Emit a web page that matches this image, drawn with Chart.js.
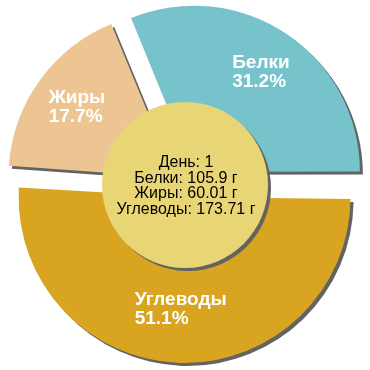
<!DOCTYPE html>
<html>
<head>
<meta charset="utf-8">
<script src="https://cdn.jsdelivr.net/npm/chart.js@4/dist/chart.umd.min.js"></script>
<style>
  html, body { margin: 0; padding: 0; background: #fff; }
  #wrap { width: 370px; height: 370px; }
</style>
</head>
<body>
<div id="wrap"><canvas id="chart1"></canvas></div>
<script>
// order is clockwise starting from 3 o'clock
const labels = ['Углеводы', 'Жиры', 'Белки'];
const percents = [51.1, 17.7, 31.2];
const grams = [173.71, 60.01, 105.9];
const dayNumber = 1;
// center text, top to bottom
const centerNames = ['Белки', 'Жиры', 'Углеводы'];
const centerGrams = [105.9, 60.01, 173.71];

const colors = ['#D9A521', '#EDC593', '#77C3CC'];
const sliceOffsets = [48, 52, 64];

// chart.js grows the radius of wide slices by their offset, undo that
let fixRadius = {
  id: 'fixRadius',
  afterDatasetsUpdate(chart) {
    const meta = chart.getDatasetMeta(0);
    meta.data.forEach(arc => {
      const off = (arc.options.offset || 0) / 4;
      const fix = 1 - Math.sin(Math.min(Math.PI, arc.circumference));
      arc.outerRadius = arc.outerRadius - off * fix;
    });
  }
};

let shadows = {
  id: 'shadows',
  beforeDatasetsDraw(chart) {
    const ctx = chart.ctx;
    ctx.save();
    ctx.shadowColor = '#636363';
    ctx.shadowOffsetX = 3;
    ctx.shadowOffsetY = 3;
    ctx.shadowBlur = 0;
  },
  afterDatasetsDraw(chart) {
    const ctx = chart.ctx;
    ctx.restore();

    const meta = chart.getDatasetMeta(0);
    const first = meta.data[0];
    const cx = first.x, cy = first.y;
    const r = chart.options.radius / 2;

    // center disc
    ctx.save();
    ctx.shadowColor = '#636363';
    ctx.shadowOffsetX = 3;
    ctx.shadowOffsetY = 3;
    ctx.beginPath();
    ctx.arc(cx, cy, r, 0, Math.PI * 2);
    ctx.fillStyle = '#E8D676';
    ctx.fill();
    ctx.restore();

    // center text
    const lines = ['День: ' + dayNumber];
    centerNames.forEach((n, i) => lines.push(n + ': ' + centerGrams[i] + ' г'));
    ctx.save();
    ctx.font = '16px "Liberation Sans", Arial, sans-serif';
    ctx.fillStyle = '#000';
    ctx.textAlign = 'center';
    ctx.textBaseline = 'middle';
    const lh = 15.5;
    lines.forEach((t, i) => {
      ctx.fillText(t, cx + 1, cy + 1 + (i - (lines.length - 1) / 2) * lh);
    });
    ctx.restore();

    // slice labels
    ctx.save();
    ctx.font = 'bold 19px "Liberation Sans", Arial, sans-serif';
    ctx.fillStyle = '#fff';
    ctx.textAlign = 'left';
    ctx.textBaseline = 'middle';
    meta.data.forEach((arc, i) => {
      const half = (arc.startAngle + arc.endAngle) / 2;
      const off = (arc.options.offset || 0) / 4;
      const dist = off + arc.outerRadius * 0.73;
      const x = arc.x + Math.cos(half) * dist;
      const y = arc.y + Math.sin(half) * dist;
      const t1 = labels[i];
      const t2 = percents[i].toFixed(1) + '%';
      const w = Math.max(ctx.measureText(t1).width, ctx.measureText(t2).width);
      ctx.fillText(t1, x - w / 2, y - 9.5);
      ctx.fillText(t2, x - w / 2, y + 9.5);
    });
    ctx.restore();
  }
};

const data_pie = {
  labels: labels,
  datasets: [{
    data: percents,
    backgroundColor: colors,
    borderWidth: 0,
    offset: sliceOffsets,
    hoverOffset: 0
  }]
};

const config = {
  type: 'pie',
  data: data_pie,
  options: {
    responsive: true,
    maintainAspectRatio: false,
    animation: false,
    events: [],
    rotation: 90,
    radius: 166,
    layout: { padding: 0 },
    plugins: {
      legend: { display: false },
      tooltip: { enabled: false }
    }
  },
  plugins: [fixRadius, shadows]
};

const chart1 = new Chart(document.getElementById('chart1'), config);
</script>
</body>
</html>
